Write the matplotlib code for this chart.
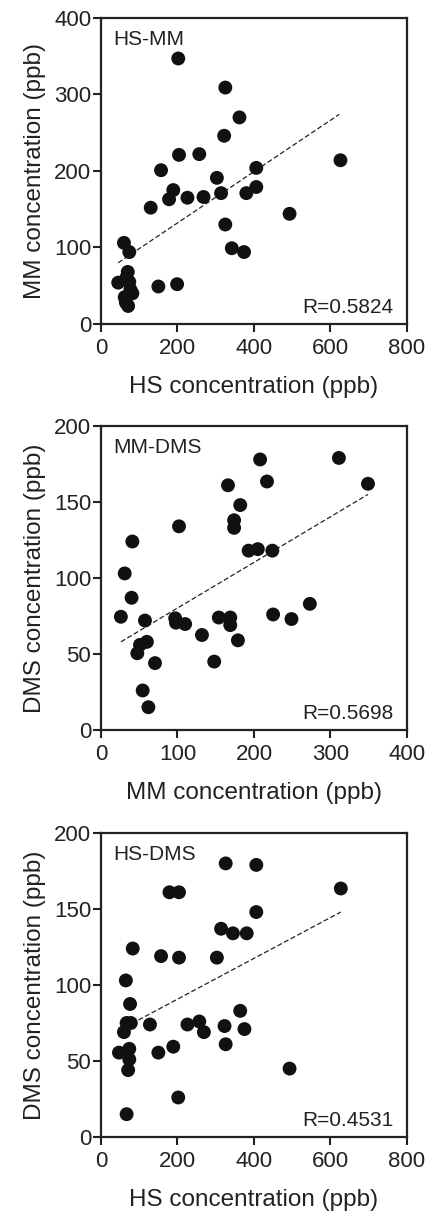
import numpy as np
import matplotlib
matplotlib.use("Agg")
import matplotlib.pyplot as plt

plt.rcParams["font.family"] = ["Liberation Sans", "DejaVu Sans"]

# --- HS vs MM ---------------------------------------------------------
HS_MM_X = [202, 325, 362, 322, 626, 157, 204, 257, 303, 406, 406, 189, 178,
           226, 268, 314, 380, 130, 325, 493, 342, 374, 60, 74, 70, 45, 74,
           82, 65, 71, 150, 199, 66, 77, 62]
HS_MM_Y = [347, 309, 270, 246, 214, 201, 221, 222, 191, 204, 179, 175, 163,
           165, 166, 171, 171, 152, 130, 144, 99, 94, 106, 94, 68, 54, 55,
           40, 28, 23.5, 49, 52, 60, 45, 35]
HS_MM_FIT = ([45, 623], [80, 274])

# --- MM vs DMS --------------------------------------------------------
MM_DMS_X = [311, 349, 208, 217, 166, 182, 174, 174, 102, 41, 193, 205, 224,
            31, 40, 26, 57.5, 97, 98, 110, 154, 169, 169, 132, 179, 225, 249,
            273, 51, 60, 47.5, 70.6, 148, 54.5, 62]
MM_DMS_Y = [179, 162, 178, 163.5, 161, 148, 138, 133, 134, 124, 118, 119, 118,
            103, 87, 74.5, 72, 73.5, 70.6, 69.7, 74, 74, 69, 62.5, 59, 76, 73,
            83, 56, 58, 50.5, 44, 45, 26, 15]
MM_DMS_FIT = ([26, 349], [58, 155])

# --- HS vs DMS --------------------------------------------------------
HS_DMS_X = [326, 406, 627, 179, 204, 406, 314, 345, 381, 83, 157, 204, 303,
            65, 76, 364, 128, 226, 257, 269, 323, 375, 326, 189, 150, 47, 74,
            67, 78, 60, 74, 71, 67, 202, 493]
HS_DMS_Y = [180, 179, 163.5, 161, 161, 148, 137, 134, 134, 124, 119, 118, 118,
            103, 87.5, 83, 74, 74, 76, 69, 73, 71, 61, 59.4, 55.5, 55.5, 58,
            75, 75, 69, 51, 44, 15, 26, 45]
HS_DMS_FIT = ([46, 627], [70, 148])

PANELS = [
    (HS_MM_X, HS_MM_Y, HS_MM_FIT, "HS-MM", "R=0.5824",
     "HS concentration (ppb)", "MM concentration (ppb)", 800, 400, 200, 100),
    (MM_DMS_X, MM_DMS_Y, MM_DMS_FIT, "MM-DMS", "R=0.5698",
     "MM concentration (ppb)", "DMS concentration (ppb)", 400, 200, 100, 50),
    (HS_DMS_X, HS_DMS_Y, HS_DMS_FIT, "HS-DMS", "R=0.4531",
     "HS concentration (ppb)", "DMS concentration (ppb)", 800, 200, 200, 50),
]

# axes rectangles in figure fractions
RECTS = [
    [0.2343, 0.7327, 0.710, 0.2525],
    [0.2343, 0.3977, 0.710, 0.2508],
    [0.2343, 0.0619, 0.710, 0.2508],
]

fig = plt.figure(figsize=(4.31, 12.12), dpi=100)

for rect, (xs, ys, fit, tag, rtxt, xlab, ylab, xmax, ymax, xstep, ystep) in zip(RECTS, PANELS):
    ax = fig.add_axes(rect)
    ax.plot(fit[0], fit[1], color="#222222", lw=0.9, ls=(0, (4, 2)), zorder=1)
    ax.scatter(xs, ys, s=100, color="#111111", edgecolors="none", zorder=2,
               clip_on=False)
    ax.set_xlim(0, xmax)
    ax.set_ylim(0, ymax)
    ax.set_xticks(np.arange(0, xmax + 1, xstep))
    ax.set_yticks(np.arange(0, ymax + 1, ystep))
    ax.tick_params(direction="out", length=6, width=1.5, labelsize=16,
                   colors="#222222")
    ax.tick_params(axis="x", pad=4)
    ax.tick_params(axis="y", pad=1)
    for sp in ax.spines.values():
        sp.set_linewidth(1.6)
        sp.set_color("#222222")
    ax.set_xlabel(xlab, fontsize=17.5, labelpad=12, color="#222222")
    ax.set_ylabel(ylab, fontsize=17.5, labelpad=6, color="#222222")
    ax.text(0.04, 0.93, tag, transform=ax.transAxes, fontsize=15,
            va="center", ha="left", color="#222222")
    ax.text(0.957, 0.055, rtxt, transform=ax.transAxes, fontsize=15,
            va="center", ha="right", color="#222222")

fig.savefig("out.png", dpi=100)
